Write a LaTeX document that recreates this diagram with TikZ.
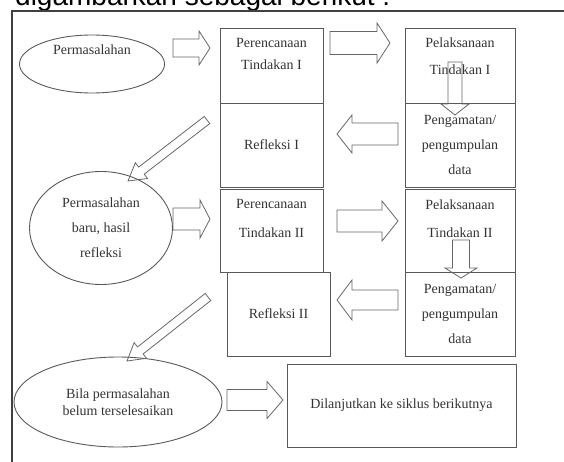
\documentclass[tikz,border=0pt]{standalone}
\usepackage{fontspec}
\setmainfont{Liberation Serif}
\newfontfamily\headfont{Liberation Sans}
\usetikzlibrary{calc,shapes.geometric}

\tikzset{
  lin/.style={draw=black!65, line width=0.9pt},
  box/.style={lin, rectangle, inner sep=0pt, align=center, text=black!80, font=\fontsize{14}{25}\selectfont},
  oval/.style={lin, ellipse, inner sep=0pt, align=center, text=black!80, font=\fontsize{14}{25}\selectfont},
  txt/.style={align=center, text=black!80, inner sep=0pt, font=\fontsize{14}{25}\selectfont},
  blockarr/.style={draw=black!60, line width=0.8pt, line join=miter},
}

% hollow block arrow: tail, tip, half shaft, half head, head length
\newcommand{\blockarrow}[5]{%
  \coordinate (#1-base) at ($(#2)!#5!(#1)$);
  \draw[blockarr] ($(#1)!#3!90:(#2)$) -- ($(#1-base)!#3!90:(#2)$)
    -- ($(#1-base)!#4!90:(#2)$) -- (#2)
    -- ($(#1-base)!#4!-90:(#2)$) -- ($(#1-base)!#3!-90:(#2)$)
    -- ($(#1)!#3!-90:(#2)$) -- cycle;
}

\begin{document}
\begin{tikzpicture}[x=1pt, y=-1pt]
  \clip (0,0) rectangle (564,462);

  \node[anchor=base west, inner sep=0pt, font=\headfont\fontsize{28}{30}\selectfont] (judul) at (15,6) {digambarkan sebagai berikut :};
  \draw[draw=black!75, line width=1.6pt] (564,11) -- (12,11) -- (12,462);

  % siklus I
  \node[oval, minimum width=145pt, minimum height=58pt] (masalah1) at (92,64) {};
  \node[txt] (masalah1-t) at (92,50) {Permasalahan};

  \node[box, minimum width=103pt, minimum height=75pt] (per1) at (271.5,65.5) {};
  \node[txt, font=\fontsize{14}{22}\selectfont] (per1-t) at (271.5,54) {Perencanaan\\Tindakan I};
  \node[box, minimum width=103pt, minimum height=84pt] (ref1) at (271.5,145) {Refleksi I};

  \node[box, minimum width=110pt, minimum height=75pt] (pel1) at (460,65.5) {};
  \node[txt, font=\fontsize{14}{27}\selectfont] (pel1-t) at (460,56.5) {Pelaksanaan\\Tindakan I};
  \node[box, minimum width=110pt, minimum height=84pt] (pen1) at (460,145) {Pengamatan/\\pengumpulan\\data};

  % siklus II
  \node[oval, minimum width=143pt, minimum height=113pt] (masalah2) at (101,228) {Permasalahan\\baru, hasil\\refleksi};

  \node[box, minimum width=103pt, minimum height=83pt] (per2) at (271.5,230.5) {};
  \node[txt, font=\fontsize{14}{29}\selectfont] (per2-t) at (271.5,218) {Perencanaan\\Tindakan II};
  \node[box, minimum width=103pt, minimum height=84pt] (ref2) at (278.5,314) {Refleksi II};

  \node[box, minimum width=110pt, minimum height=83pt] (pel2) at (460,230.5) {};
  \node[txt, font=\fontsize{14}{28}\selectfont] (pel2-t) at (460,219) {Pelaksanaan\\Tindakan II};
  \node[box, minimum width=110pt, minimum height=84pt] (pen2) at (460,314) {Pengamatan/\\pengumpulan\\data};

  % lanjut
  \node[oval, minimum width=208pt, minimum height=90pt, font=\fontsize{14}{17}\selectfont] (masalah3) at (118,402) {Bila permasalahan\\belum terselesaikan};
  \node[box, minimum width=229pt, minimum height=83pt] (lanjut) at (401.5,405.5) {Dilanjutkan ke siklus berikutnya};

  % panah
  \coordinate (a1s) at (173,48);  \coordinate (a1e) at (210,48);
  \coordinate (a2s) at (330,43);  \coordinate (a2e) at (390,43);
  \coordinate (a3s) at (455,62);  \coordinate (a3e) at (455,115);
  \coordinate (a4s) at (398,134); \coordinate (a4e) at (337,134);
  \coordinate (d1s) at (207,120); \coordinate (d1e) at (128,181);
  \coordinate (a5s) at (173,219); \coordinate (a5e) at (210,219);
  \coordinate (a6s) at (337,221); \coordinate (a6e) at (398,221);
  \coordinate (a7s) at (461,240); \coordinate (a7e) at (461,278);
  \coordinate (a8s) at (398,300); \coordinate (a8e) at (337,300);
  \coordinate (d2s) at (208,297); \coordinate (d2e) at (127,361);
  \coordinate (a9s) at (227,400); \coordinate (a9e) at (283,400);

  \blockarrow{a1s}{a1e}{9pt}{17pt}{11pt}
  \blockarrow{a2s}{a2e}{11.5pt}{20pt}{13pt}
  \blockarrow{a3s}{a3e}{7pt}{14pt}{11pt}
  \blockarrow{a4s}{a4e}{11pt}{19pt}{15pt}
  \blockarrow{d1s}{d1e}{4.5pt}{10pt}{17pt}
  \blockarrow{a5s}{a5e}{11pt}{19pt}{10pt}
  \blockarrow{a6s}{a6e}{11pt}{20pt}{16pt}
  \blockarrow{a7s}{a7e}{8.5pt}{16pt}{10pt}
  \blockarrow{a8s}{a8e}{10pt}{20pt}{15pt}
  \blockarrow{d2s}{d2e}{4.5pt}{10pt}{17pt}
  \blockarrow{a9s}{a9e}{10.5pt}{18.5pt}{16pt}
\end{tikzpicture}
\end{document}
